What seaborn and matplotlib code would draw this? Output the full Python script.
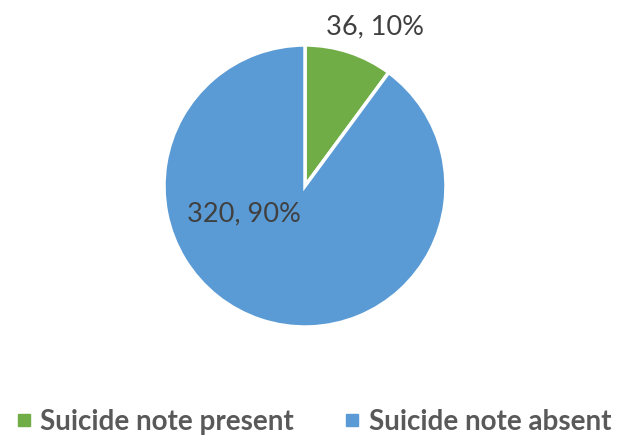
import matplotlib
matplotlib.use("Agg")
import matplotlib.pyplot as plt
from matplotlib.lines import Line2D
import seaborn as sns

categories = ["Suicide note present", "Suicide note absent"]
counts = [36, 320]
percents = [10, 90]
colors = ["#70AD47", "#5B9BD5"]

sns.set_theme(style="white")
plt.rcParams["font.family"] = ["Lato", "DejaVu Sans"]

fig = plt.figure(figsize=(6.19, 4.36), dpi=100)
ax = fig.add_axes([164 / 619, 109 / 436, 282 / 619, 282 / 436])

wedges, _ = ax.pie(
    counts,
    colors=colors,
    startangle=90,
    counterclock=False,
    radius=1.0,
    wedgeprops=dict(edgecolor="white", linewidth=2.5),
)
ax.set_xlim(-1, 1)
ax.set_ylim(-1, 1)
ax.set_aspect("equal")
ax.axis("off")

label_pos = [(0.50, 1.13), (-0.43, -0.20)]
for (x, y), c, p in zip(label_pos, counts, percents):
    ax.text(x, y, f"{c}, {p}%", ha="center", va="center",
            fontsize=19.5, color="#404040", clip_on=False)

handles = [Line2D([0], [0], marker="s", linestyle="none", markersize=9,
                  markerfacecolor=col, markeredgecolor=col) for col in colors]
leg = fig.legend(handles, categories, loc="center", bbox_to_anchor=(0.502, 0.033),
                 ncol=2, frameon=False, handletextpad=0.1, handlelength=1.0,
                 columnspacing=1.6, borderpad=0.0,
                 prop=dict(family="Lato", weight="bold", size=20))
for t in leg.get_texts():
    t.set_color("#595959")

fig.savefig("out.png", dpi=100)
